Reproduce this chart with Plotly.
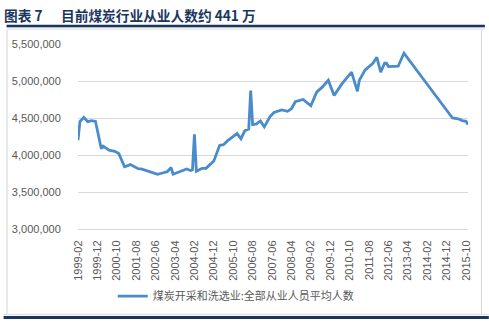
import plotly.graph_objects as go

# ---- data ----
dates = ["1999-02", "1999-03", "1999-05", "1999-07", "1999-09", "1999-11",
         "2000-02", "2000-03", "2000-06", "2000-09", "2000-11",
         "2001-02", "2001-05", "2001-09", "2001-11",
         "2002-02", "2002-07", "2002-10", "2002-12",
         "2003-02", "2003-03", "2003-06", "2003-10", "2003-12",
         "2004-01", "2004-02", "2004-03", "2004-06", "2004-08", "2004-10", "2004-12",
         "2005-03", "2005-05", "2005-07", "2005-09", "2005-12",
         "2006-02", "2006-04", "2006-06", "2006-07", "2006-08", "2006-10", "2006-12",
         "2007-02", "2007-05", "2007-07", "2007-11", "2008-02", "2008-04", "2008-06",
         "2008-10", "2009-02", "2009-05", "2009-08", "2009-11", "2010-02", "2010-06",
         "2010-11", "2011-02", "2011-03", "2011-06", "2011-08", "2011-10", "2011-12",
         "2012-02", "2012-04", "2012-05", "2012-06", "2012-08", "2012-11",
         "2013-02", "2015-03", "2015-06", "2015-08", "2015-10", "2015-11"]
values = [4200000, 4450000, 4510000, 4450000, 4465000, 4455000,
          4085000, 4120000, 4065000, 4050000, 4020000,
          3840000, 3870000, 3815000, 3810000,
          3785000, 3740000, 3760000, 3775000,
          3830000, 3740000, 3770000, 3810000, 3790000,
          3800000, 4280000, 3780000, 3820000, 3820000, 3870000, 3920000,
          4130000, 4140000, 4190000, 4230000, 4290000,
          4220000, 4330000, 4350000, 4870000, 4410000, 4420000, 4460000,
          4380000, 4520000, 4575000, 4610000, 4590000, 4625000, 4720000,
          4750000, 4665000, 4850000, 4920000, 5010000, 4805000, 4960000,
          5120000, 4860000, 5010000, 5150000, 5190000, 5240000, 5320000,
          5120000, 5240000, 5240000, 5195000, 5195000, 5200000,
          5375000, 4500000, 4490000, 4465000, 4455000, 4410000]

series_name = "煤炭开采和洗选业:全部从业人员平均人数"
title_label = "图表 7"
title_main = "目前煤炭行业从业人数约 441 万"
y_ticks = [3000000, 3500000, 4000000, 4500000, 5000000, 5500000]

# full monthly category axis 1999-02 .. 2015-11
months = []
y, m = 1999, 2
while (y, m) <= (2015, 11):
    months.append(f"{y}-{m:02d}")
    m += 1
    if m > 12:
        m = 1
        y += 1
tick_months = months[::10]

# ---- geometry helpers ----
W, H = 489, 323
L, R, T, B = 75, 21, 44, 93
PW, PH = W - L - R, H - T - B

def px(x):
    return (x - L) / PW

def py(yv):
    return (H - B - yv) / PH

NAVY = "#1b365d"
LINE = "#4a8bcb"
GRAY_TXT = "#595959"

fig = go.Figure()
fig.add_trace(go.Scatter(
    x=dates, y=values, mode="lines", name=series_name,
    line=dict(color=LINE, width=2.8),
))

fig.update_layout(
    width=W, height=H, autosize=False,
    margin=dict(l=L, r=R, t=T, b=B),
    paper_bgcolor="white", plot_bgcolor="white",
    showlegend=True,
    legend=dict(orientation="h", x=px(110), y=py(297.5), xanchor="left", yanchor="middle",
                font=dict(family="Noto Sans CJK SC", size=11, color=GRAY_TXT),
                bgcolor="rgba(0,0,0,0)", borderwidth=0),
    xaxis=dict(type="category", categoryorder="array", categoryarray=months,
               range=[0, len(months) - 1],
               tickmode="array", tickvals=tick_months, ticktext=tick_months,
               tickangle=-90, showgrid=False, zeroline=False,
               showline=True, linecolor="#d9d9d9", linewidth=1,
               ticks="outside", ticklen=6, tickcolor="rgba(0,0,0,0)",
               tickfont=dict(family="Liberation Sans", size=11, color=GRAY_TXT)),
    yaxis=dict(range=[3000000, 5500000], tickmode="array", tickvals=y_ticks,
               ticktext=[f"{v:,}" for v in y_ticks],
               showgrid=True, gridcolor="#d9d9d9", gridwidth=1, zeroline=False,
               showline=False, ticks="outside", ticklen=14, tickcolor="rgba(0,0,0,0)",
               tickfont=dict(family="Liberation Sans", size=11, color=GRAY_TXT)),
)

title_font = dict(family="Noto Sans CJK SC", size=13.7, color=NAVY, weight="bold")
fig.add_annotation(text=title_label, xref="paper", yref="paper", x=px(-1), y=py(15),
                   xanchor="left", yanchor="middle", showarrow=False, font=title_font,
                   borderpad=0)
fig.add_annotation(text=title_main, xref="paper", yref="paper", x=px(57), y=py(15),
                   xanchor="left", yanchor="middle", showarrow=False, font=title_font,
                   borderpad=0)

shapes = [
    # top navy rule and light band
    dict(type="rect", xref="paper", yref="paper", x0=px(3), x1=px(485), y0=py(30), y1=py(27),
         fillcolor="#ececec", line=dict(width=0), layer="below"),
    dict(type="line", xref="paper", yref="paper", x0=px(3), x1=px(485), y0=py(26), y1=py(26),
         line=dict(color=NAVY, width=2.5)),
    # side borders
    dict(type="line", xref="paper", yref="paper", x0=px(3.5), x1=px(3.5), y0=py(30), y1=py(316),
         line=dict(color="#d4d4d4", width=1)),
    dict(type="line", xref="paper", yref="paper", x0=px(481.5), x1=px(481.5), y0=py(30), y1=py(316),
         line=dict(color="#d4d4d4", width=1)),
    # bottom rules
    dict(type="line", xref="paper", yref="paper", x0=px(0), x1=px(489), y0=py(316), y1=py(316),
         line=dict(color="#e2e2e2", width=1.5)),
    dict(type="line", xref="paper", yref="paper", x0=px(0), x1=px(489), y0=py(319), y1=py(319),
         line=dict(color=NAVY, width=3)),
]
fig.update_layout(shapes=shapes)

fig.write_html("out.html")
